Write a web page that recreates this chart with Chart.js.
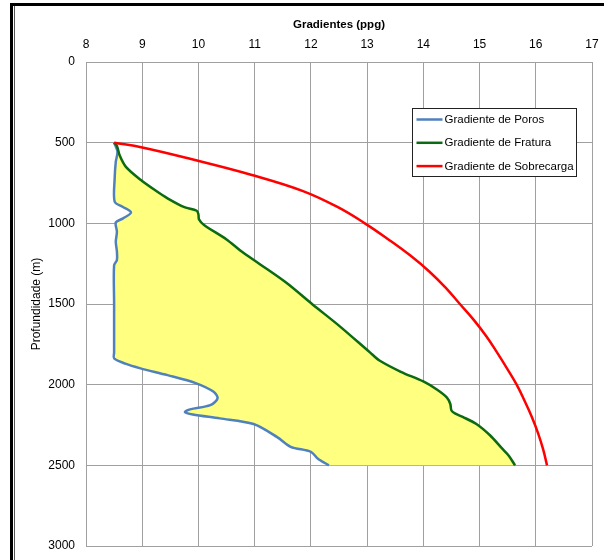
<!DOCTYPE html>
<html>
<head>
<meta charset="utf-8">
<script src="https://cdn.jsdelivr.net/npm/chart.js@4/dist/chart.umd.min.js"></script>
<style>
  html, body { margin: 0; padding: 0; background: #fff; }
  #wrap { position: relative; width: 604px; height: 560px; }
</style>
</head>
<body>
<div id="wrap"><canvas id="c" width="604" height="560"></canvas></div>
<script>
// ---- Data ----
const xTicks = [8, 9, 10, 11, 12, 13, 14, 15, 16, 17];
const yTicks = [0, 500, 1000, 1500, 2000, 2500, 3000];

const seriesNames = ['Gradiente de Poros', 'Gradiente de Fratura', 'Gradiente de Sobrecarga'];

// Gradiente de Poros (ppg) vs depth (m)
const depthPoros = [500, 556, 618, 721, 866, 897, 932, 969, 994, 1052, 1114, 1176, 1228, 1259, 1500, 1800, 1837, 1870, 1899, 1941, 1990, 2044, 2085, 2127, 2153, 2170, 2185, 2209, 2244, 2325, 2385, 2416, 2457, 2500];
const poros      = [8.5, 8.56, 8.53, 8.51, 8.51, 8.65, 8.8, 8.66, 8.53, 8.55, 8.53, 8.55, 8.55, 8.5, 8.5, 8.5, 8.5, 8.7, 8.97, 9.45, 9.95, 10.27, 10.34, 10.21, 9.85, 9.76, 9.9, 10.38, 10.98, 11.4, 11.64, 12.0, 12.12, 12.32];

// Gradiente de Fratura (ppg) vs depth (m)
const depthFratura = [500, 520, 580, 650, 730, 800, 845, 900, 922, 945, 975, 1010, 1100, 1170, 1250, 1370, 1500, 1640, 1800, 1850, 1920, 1980, 2030, 2080, 2120, 2160, 2180, 2200, 2245, 2315, 2395, 2440, 2500];
const fratura      = [8.5, 8.55, 8.6, 8.71, 8.97, 9.25, 9.45, 9.75, 9.97, 10.0, 10.01, 10.1, 10.5, 10.75, 11.08, 11.57, 12.02, 12.52, 13.05, 13.22, 13.6, 14.0, 14.24, 14.42, 14.48, 14.5, 14.57, 14.7, 14.95, 15.19, 15.4, 15.52, 15.63];

// Gradiente de Sobrecarga (ppg) vs depth (m)
const depthSobrecarga = [500, 530, 600, 700, 800, 900, 1000, 1100, 1200, 1300, 1400, 1500, 1600, 1700, 1800, 1900, 2000, 2100, 2200, 2300, 2400, 2500];
const sobrecarga      = [8.5, 9.0, 9.85, 10.95, 11.86, 12.48, 12.96, 13.38, 13.77, 14.11, 14.4, 14.65, 14.9, 15.12, 15.31, 15.49, 15.66, 15.8, 15.93, 16.04, 16.13, 16.2];

// ---- helpers ----
const toXY = (vals, depths) => vals.map((v, i) => ({ x: v, y: depths[i] }));
const porosXY = toXY(poros, depthPoros);
const fraturaXY = toXY(fratura, depthFratura);
const sobrecargaXY = toXY(sobrecarga, depthSobrecarga);
// closed window between fracture and pore curves (end points repeated so the bottom edge stays straight)
const fratEnd = fraturaXY[fraturaXY.length - 1];
const porEnd = porosXY[porosXY.length - 1];
const windowXY = fraturaXY.concat([fratEnd], [porEnd], porosXY.slice().reverse());

const COLORS = ['#4f81bd', '#0b6a12', '#ff0000'];
const TENSION = 0.3;
const FAMILY = "'Liberation Sans', Arial, sans-serif";
const TICK_FONT = { family: FAMILY, size: 12 };

const framePlugin = {
  id: 'frame',
  beforeDraw(chart) {
    const ctx = chart.ctx;
    ctx.save();
    ctx.fillStyle = '#fff';
    ctx.fillRect(0, 0, chart.width, chart.height);
    ctx.fillStyle = '#000';
    ctx.fillRect(10, 3, 3, chart.height - 3);
    ctx.fillRect(10, 3, chart.width - 10, 3);
    ctx.fillStyle = '#555';
    ctx.fillRect(14, 6, 1, chart.height - 6);
    ctx.restore();
  }
};

const legendPlugin = {
  id: 'boxLegend',
  afterDraw(chart) {
    const ctx = chart.ctx;
    const a = chart.chartArea;
    const bx = a.right - 180, by = a.top + 46, bw = 164, bh = 68;
    ctx.save();
    ctx.fillStyle = '#fff';
    ctx.fillRect(bx, by, bw, bh);
    ctx.strokeStyle = '#222';
    ctx.lineWidth = 1;
    ctx.strokeRect(bx + 0.5, by + 0.5, bw, bh);
    ctx.font = "11.5px " + FAMILY;
    ctx.textBaseline = 'middle';
    ctx.textAlign = 'left';
    [0, 1, 2].forEach((i) => {
      const ds = chart.data.datasets[i + 1];
      const y = by + 11.5 + i * 23.3;
      ctx.strokeStyle = ds.borderColor;
      ctx.lineWidth = 2.5;
      ctx.beginPath();
      ctx.moveTo(bx + 4.5, y);
      ctx.lineTo(bx + 30.5, y);
      ctx.stroke();
      ctx.fillStyle = '#000';
      ctx.fillText(ds.label, bx + 32.5, y + 0.5);
    });
    ctx.restore();
  }
};

new Chart(document.getElementById('c'), {
  type: 'scatter',
  data: {
    datasets: [
      {
        label: 'Janela',
        data: windowXY,
        showLine: true,
        fill: 'shape',
        backgroundColor: '#ffff80',
        borderWidth: 0,
        borderColor: 'rgba(0,0,0,0)',
        pointRadius: 0,
        tension: TENSION,
        order: 10
      },
      {
        label: seriesNames[0],
        data: porosXY,
        showLine: true,
        borderColor: COLORS[0],
        borderWidth: 2.5,
        pointRadius: 0,
        fill: false,
        tension: TENSION,
        order: 3
      },
      {
        label: seriesNames[1],
        data: fraturaXY,
        showLine: true,
        borderColor: COLORS[1],
        borderWidth: 2.5,
        pointRadius: 0,
        fill: false,
        tension: TENSION,
        order: 2
      },
      {
        label: seriesNames[2],
        data: sobrecargaXY,
        showLine: true,
        borderColor: COLORS[2],
        borderWidth: 2.5,
        pointRadius: 0,
        fill: false,
        tension: 0.4,
        order: 1
      }
    ]
  },
  options: {
    responsive: false,
    animation: false,
    devicePixelRatio: 1,
    layout: { padding: { left: 0, top: 0, right: 12, bottom: 14 } },
    plugins: {
      legend: { display: false },
      tooltip: { enabled: false },
      filler: { propagate: false }
    },
    scales: {
      x: {
        type: 'linear',
        position: 'top',
        min: 8,
        max: 17,
        afterBuildTicks: (s) => { s.ticks = xTicks.map((v) => ({ value: v })); },
        afterFit: (s) => { s.height = 62; s.paddingLeft = 0; s.paddingRight = 0; },
        ticks: { font: TICK_FONT, color: '#000', padding: 10, callback: (v) => String(v), maxRotation: 0 },
        grid: { color: '#a0a0a0', lineWidth: 1, drawTicks: false },
        border: { color: '#a0a0a0', width: 1 },
        title: {
          display: true,
          text: 'Gradientes (ppg)',
          font: { family: FAMILY, size: 11.5, weight: 'bold' },
          color: '#000',
          padding: { top: 18, bottom: 0 }
        }
      },
      y: {
        type: 'linear',
        reverse: true,
        min: 0,
        max: 3000,
        afterBuildTicks: (s) => { s.ticks = yTicks.map((v) => ({ value: v })); },
        afterFit: (s) => { s.width = 86; s.paddingTop = 0; s.paddingBottom = 0; },
        ticks: { font: TICK_FONT, color: '#000', padding: 11, callback: (v) => String(v) },
        grid: { color: '#a0a0a0', lineWidth: 1, drawTicks: false },
        border: { color: '#a0a0a0', width: 1 },
        title: {
          display: true,
          text: 'Profundidade (m)',
          font: { family: FAMILY, size: 12 },
          color: '#000',
          padding: { top: 29, bottom: 0 }
        }
      }
    }
  },
  plugins: [framePlugin, legendPlugin]
});
</script>
</body>
</html>
